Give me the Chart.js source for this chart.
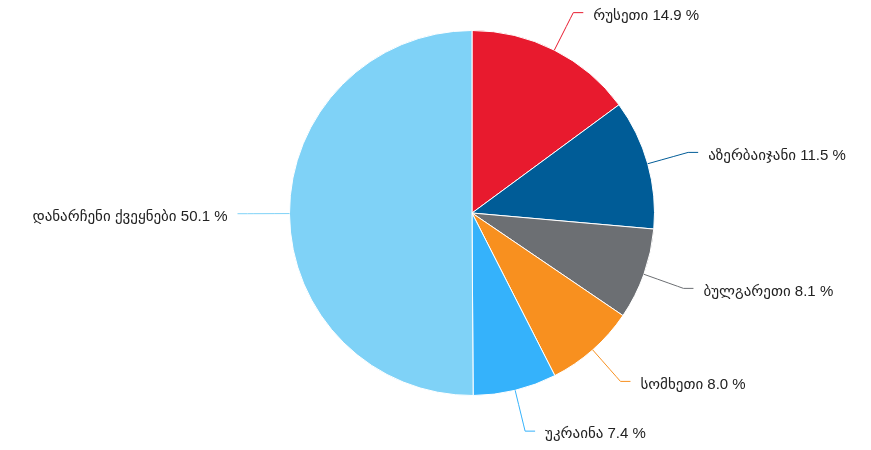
<!DOCTYPE html>
<html>
<head>
<meta charset="utf-8">
<script src="https://cdn.jsdelivr.net/npm/chart.js@4"></script>
<style>
  html, body { margin: 0; padding: 0; background: #fff; }
  #wrap { width: 871px; height: 450px; }
</style>
</head>
<body>
<div id="wrap"><canvas id="pie"></canvas></div>
<script>
const countries = ['რუსეთი', 'აზერბაიჯანი', 'ბულგარეთი', 'სომხეთი', 'უკრაინა', 'დანარჩენი ქვეყნები'];
const shares = [14.9, 11.5, 8.1, 8.0, 7.4, 50.1];
const colors = ['#E81A2E', '#005C97', '#6C6F73', '#F8901F', '#35B2FB', '#7FD2F7'];

// labels with leader lines, placed from the arcs the library drew
const pieLabels = {
  id: 'pieLabels',
  afterDatasetsDraw(chart) {
    const ctx = chart.ctx;
    const arcs = chart.getDatasetMeta(0).data;
    ctx.save();
    ctx.font = '15px "Liberation Sans", "DejaVu Sans", sans-serif';
    ctx.textBaseline = 'middle';
    arcs.forEach((arc, i) => {
      const mid = (arc.startAngle + arc.endAngle) / 2;
      const r = arc.outerRadius;
      const cos = Math.cos(mid), sin = Math.sin(mid);
      const x0 = arc.x + cos * r, y0 = arc.y + sin * r;
      const x1 = arc.x + cos * (r + 42), y1 = arc.y + sin * (r + 42);
      const right = cos >= 0;
      const x2 = x1 + (right ? 10 : -10);
      ctx.strokeStyle = colors[i];
      ctx.lineWidth = 1;
      ctx.beginPath();
      ctx.moveTo(x0, y0);
      ctx.quadraticCurveTo(arc.x + cos * (r + 32), arc.y + sin * (r + 32), x1, y1);
      ctx.lineTo(x2, y1);
      ctx.stroke();
      ctx.fillStyle = '#222';
      ctx.textAlign = right ? 'left' : 'right';
      const text = countries[i] + ' ' + shares[i].toFixed(1) + ' %';
      ctx.fillText(text, x2 + (right ? 10 : -10), y1 + 3);
    });
    ctx.restore();
  }
};

new Chart(document.getElementById('pie'), {
  type: 'pie',
  data: {
    labels: countries,
    datasets: [{
      data: shares,
      backgroundColor: colors,
      borderColor: '#fff',
      borderWidth: 1
    }]
  },
  options: {
    responsive: true,
    maintainAspectRatio: false,
    animation: false,
    layout: { padding: { top: 30, bottom: 54, left: 200, right: 127 } },
    plugins: {
      legend: { display: false },
      tooltip: { enabled: false }
    }
  },
  plugins: [pieLabels]
});
</script>
</body>
</html>
